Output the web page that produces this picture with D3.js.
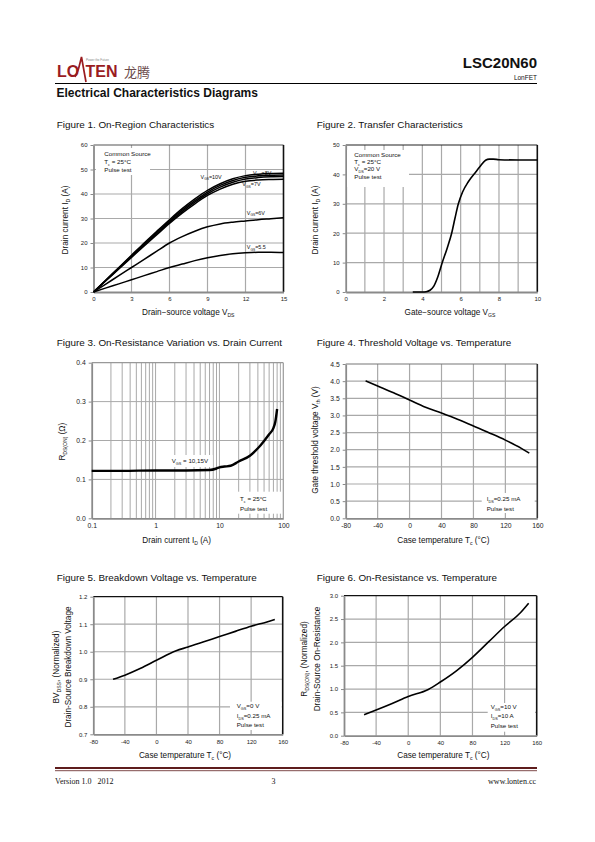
<!DOCTYPE html>
<html><head><meta charset="utf-8">
<script src="https://cdn.jsdelivr.net/npm/d3@7/dist/d3.min.js"></script>
<style>body{margin:0;background:#fff}svg{display:block}</style>
</head><body>
<script>
// ================= DATA =================
// Figure 1: On-Region Characteristics
const fig1Vds   = [0,1,2,3,4,5,6,7,8,9,10,11,12,13,14,15];
const fig1Vgs15 = [0,5,10,15,20,24.8,29.5,34,38,41.5,44.2,46.2,47.5,48.1,48.4,48.5];
const fig1Vgs10 = [0,4.9,9.8,14.7,19.6,24.4,29,33.4,37.3,40.8,43.5,45.5,46.8,47.4,47.7,47.8];
const fig1Vgs8  = [0,4.8,9.6,14.4,19.2,23.9,28.5,32.8,36.7,40.1,42.8,44.8,46.1,46.7,47,47.1];
const fig1Vgs7  = [0,4.7,9.4,14.1,18.8,23.4,28,32.2,36,39.4,42,44,45.2,45.7,45.9,46];
const fig1Vgs6  = [0,3.3,6.7,10,13.3,16.7,20,22.6,24.8,26.6,27.8,28.5,29,29.5,29.9,30.3];
const fig1Vgs55 = [0,1.67,3.33,5,6.67,8.33,10,11.4,12.8,14,14.9,15.6,16,16.2,16.2,16.1];
const fig1XTicks = [0,3,6,9,12,15];
const fig1YTicks = [0,10,20,30,40,50,60];

// Figure 2: Transfer Characteristics
const fig2Vgs = [3.5,4.0,4.2,4.4,4.6,4.8,5.04,5.3,5.53,5.7,5.88,6.1,6.4,6.75,7.0,7.3,7.5,7.7,8.0,9.0,10.0];
const fig2Id  = [0,0,0.1,0.6,2,5,10,15,20,25,30,34,37.5,40.5,42.6,44.8,45.2,45.2,45,44.9,44.9];
const fig2XTicks = [0,2,4,6,8,10];
const fig2XGrid  = [1,2,3,4,5,6,7,8,9];
const fig2YTicks = [0,10,20,30,40,50];

// Figure 3: On-Resistance vs Drain Current
const fig3Id = [0.1,0.3,1,3,7,9,10,12,15,20,30,40,50,60,70,75,80];
const fig3R  = [0.122,0.122,0.123,0.123,0.124,0.128,0.131,0.133,0.135,0.146,0.161,0.18,0.199,0.216,0.232,0.248,0.281];
const fig3XTicks = [0.1,1,10,100];
const fig3XGrid  = [0.2,0.3,0.4,0.5,0.6,0.7,0.8,0.9,1,2,3,4,5,6,7,8,9,10,20,30,40,50,60,70,80,90];
const fig3YTicks = [0,0.1,0.2,0.3,0.4];

// Figure 4: Threshold Voltage vs Temperature
const fig4T   = [-55,-40,-20,0,20,40,60,80,100,120,140,150];
const fig4Vth = [4.01,3.86,3.66,3.45,3.24,3.07,2.89,2.69,2.49,2.28,2.04,1.9];
const tempTicks = [-80,-40,0,40,80,120,160];
const fig4YTicks = [0,0.5,1,1.5,2,2.5,3,3.5,4,4.5];

// Figure 5: Breakdown Voltage vs Temperature
const fig5T  = [-55,-40,-20,0,25,40,60,80,100,120,140,150];
const fig5BV = [0.9,0.915,0.94,0.969,1.004,1.017,1.036,1.055,1.074,1.093,1.108,1.117];
const fig5YTicks = [0.7,0.8,0.9,1.0,1.1,1.2];

// Figure 6: On-Resistance vs Temperature
const fig6T = [-55,-40,-20,0,25,40,60,80,100,120,140,150];
const fig6R = [0.45,0.55,0.69,0.84,0.99,1.15,1.39,1.68,2.01,2.34,2.64,2.84];
const fig6YTicks = [0,0.5,1,1.5,2,2.5,3];

// ================= DRAWING =================
const FONT = "'Liberation Sans', Arial, Helvetica, sans-serif";
const svg = d3.select("body").append("svg").attr("width",595).attr("height",842)
  .attr("font-family",FONT);

function rich(sel, parts, size){
  let prevSub = false;
  parts.forEach(p=>{
    const isSub = Array.isArray(p);
    const ts = sel.append("tspan").text(isSub ? p[0] : p);
    if(isSub){ ts.attr("font-size", size*0.62); if(!prevSub) ts.attr("dy", size*0.3); }
    else if(prevSub){ ts.attr("dy", -size*0.3); }
    prevSub = isSub;
  });
  return sel;
}
function label(g, x, y, parts, size, opts={}){
  const t = g.append("text").attr("x",x).attr("y",y).attr("font-size",size)
    .attr("fill", opts.fill||"#111").attr("text-anchor", opts.anchor||"start");
  if(opts.weight) t.attr("font-weight",opts.weight);
  if(opts.family) t.attr("font-family",opts.family);
  rich(t, parts, size);
  return t;
}
function vlabel(g, cx, cy, parts, size){
  const t = g.append("text").attr("transform",`translate(${cx+size*0.35},${cy}) rotate(-90)`)
    .attr("font-size",size).attr("fill","#111").attr("text-anchor","middle");
  rich(t, parts, size);
  return t;
}

function panel(c){
  const g = svg.append("g");
  const x=c.x, y=c.y;
  const [L,R]=x.range(), [B,T]=y.range();
  g.selectAll("line.vg").data(c.xGrid).join("line").attr("class","vg")
    .attr("x1",d=>x(d)).attr("x2",d=>x(d)).attr("y1",T).attr("y2",B)
    .attr("stroke","#a9a9a9").attr("stroke-width",c.gridW||1.2);
  g.selectAll("line.hg").data(c.yGrid).join("line").attr("class","hg")
    .attr("x1",L).attr("x2",R).attr("y1",d=>y(d)).attr("y2",d=>y(d))
    .attr("stroke","#a9a9a9").attr("stroke-width",c.gridW||1.2);
  g.append("line").attr("x1",L).attr("x2",R).attr("y1",T).attr("y2",T)
    .attr("stroke",c.topColor||"#555").attr("stroke-width",1.2);
  g.append("line").attr("x1",R).attr("x2",R).attr("y1",T).attr("y2",B)
    .attr("stroke",c.rightColor||"#111").attr("stroke-width",c.rightW||1.6);
  const ax = g.append("g").attr("transform",`translate(0,${B})`)
    .call(d3.axisBottom(x).tickValues(c.xTicks).tickSize(0).tickSizeOuter(0).tickPadding(c.xPad||5).tickFormat(c.xFmt||(d=>String(d))));
  const ay = g.append("g").attr("transform",`translate(${L},0)`)
    .call(d3.axisLeft(y).tickValues(c.yTicks).tickSize(3).tickSizeOuter(0).tickPadding(3).tickFormat(c.yFmt||(d=>String(d))));
  [ax,ay].forEach(a=>{
    a.select(".domain").attr("stroke","#8a8a8a").attr("stroke-width",1.8);
    a.selectAll(".tick line").attr("stroke","#8a8a8a");
    a.selectAll("text").attr("font-family",FONT).attr("font-size",c.tickFs||6).attr("fill","#222");
  });
  return g;
}
function box(g, x, y, w, h){
  g.append("rect").attr("x",x).attr("y",y).attr("width",w).attr("height",h).attr("fill","#fff");
}
function curve(g, x, y, xs, ys, w){
  g.append("path").datum(xs.map((v,i)=>[v,ys[i]]))
    .attr("d", d3.line().x(d=>x(d[0])).y(d=>y(d[1])).curve(d3.curveMonotoneX))
    .attr("fill","none").attr("stroke","#000").attr("stroke-width",w||1.6).attr("stroke-linejoin","round");
}
function title(x, y, text){
  svg.append("text").attr("x",x).attr("y",y).attr("font-size",9.9).attr("fill","#111").text(text);
}
const LF = 6.2; // legend font size

// ---------- header ----------
const hdr = svg.append("g");
const logoRed = "#9a1c1f";
hdr.append("text").attr("x",57).attr("y",77).attr("font-size",16).attr("font-weight","bold").attr("fill",logoRed).text("LO");
hdr.append("path").attr("d","M75,77 L78.5,69 L81.5,57 L84,71 L86,82").attr("fill","none").attr("stroke",logoRed).attr("stroke-width",1.7);
hdr.append("text").attr("x",85.5).attr("y",77).attr("font-size",16).attr("font-weight","bold").attr("fill",logoRed).text("TEN");
hdr.append("text").attr("x",86).attr("y",61).attr("font-size",3).attr("fill","#888").text("Power the Future");
hdr.append("text").attr("x",124).attr("y",77).attr("font-size",13).attr("fill","#6a4a4a")
  .attr("font-family","'Noto Sans CJK SC', sans-serif").text("龙腾");
hdr.append("text").attr("x",537).attr("y",67.5).attr("text-anchor","end").attr("font-size",15).attr("font-weight","bold").attr("fill","#111").text("LSC20N60");
hdr.append("text").attr("x",537).attr("y",79.5).attr("text-anchor","end").attr("font-size",6.5).attr("fill","#111").text("LonFET");
hdr.append("line").attr("x1",55).attr("x2",537).attr("y1",83.5).attr("y2",83.5).attr("stroke","#000").attr("stroke-width",1);
hdr.append("text").attr("x",56.5).attr("y",96.5).attr("font-size",12).attr("font-weight","bold").attr("fill","#111").text("Electrical Characteristics Diagrams");

// ---------- Figure 1 ----------
title(56.7, 128.3, "Figure 1. On-Region Characteristics");
{
  const x = d3.scaleLinear().domain([0,15]).range([93.5,283.5]);
  const y = d3.scaleLinear().domain([0,60]).range([292,145]);
  const g = panel({x,y,xGrid:[3,6,9,12],yGrid:[10,20,30,40,50],xTicks:fig1XTicks,yTicks:fig1YTicks,topColor:"#555",tickFs:6});
  box(g, 96, 148, 54, 27);
  label(g, 104.3, 156.2, ["Common Source"], LF);
  label(g, 104.3, 163.9, ["T",["c"]," = 25°C"], LF);
  label(g, 104.3, 171.5, ["Pulse test"], LF);
  label(g, x(12.6), y(47.6), ["V",["GS"],"=8V"], 5.4);
  [fig1Vgs15,fig1Vgs10,fig1Vgs8,fig1Vgs7,fig1Vgs6,fig1Vgs55].forEach(s=>curve(g,x,y,fig1Vds,s,1.5));
  label(g, x(8.45), y(46.2), ["V",["GS"],"=10V"], 5.4);
  label(g, x(11.75), y(43.2), ["V",["GS"],"=7V"], 5.4);
  label(g, x(12.1), y(31.6), ["V",["GS"],"=6V"], 5.4);
  label(g, x(12.1), y(17.6), ["V",["GS"],"=5.5"], 5.4);
  label(g, 188.3, 314.5, ["Drain\u2212source voltage V",["DS"]], 8.2, {anchor:"middle"});
  vlabel(g, 65, 220, ["Drain current I",["D"]," (A)"], 8.2);
}

// ---------- Figure 2 ----------
title(316.7, 128.3, "Figure 2. Transfer Characteristics");
{
  const x = d3.scaleLinear().domain([0,10]).range([345.7,537.3]);
  const y = d3.scaleLinear().domain([0,50]).range([292,145]);
  const g = panel({x,y,xGrid:fig2XGrid,yGrid:[10,20,30,40],xTicks:fig2XTicks,yTicks:fig2YTicks,topColor:"#222",tickFs:6});
  box(g, 347, 150, 62, 37);
  label(g, 354.3, 157.2, ["Common Source"], LF);
  label(g, 354.3, 164.4, ["T",["c"]," = 25°C"], LF);
  label(g, 354.3, 171.4, ["V",["DS"],"=20 V"], LF);
  label(g, 354.3, 178.9, ["Pulse test"], LF);
  curve(g, x, y, fig2Vgs, fig2Id, 1.6);
  label(g, 450, 314.5, ["Gate\u2212source voltage V",["GS"]], 8.2, {anchor:"middle"});
  vlabel(g, 315, 220, ["Drain current I",["D"]," (A)"], 8.2);
}

// ---------- Figure 3 ----------
title(56.7, 345.6, "Figure 3. On-Resistance Variation vs. Drain Current");
{
  const x = d3.scaleLog().domain([0.1,100]).range([91.7,283.3]);
  const y = d3.scaleLinear().domain([0,0.4]).range([518.3,362.7]);
  const g = panel({x,y,xGrid:fig3XGrid,yGrid:[0.1,0.2,0.3],xTicks:fig3XTicks,yTicks:fig3YTicks,
    xFmt:d=>String(d), yFmt:d3.format(".1f"), topColor:"#999", rightColor:"#999", rightW:1.2, gridW:1, tickFs:6.8});
  box(g, 166.7, 455, 46, 12);
  label(g, 171.7, 463.2, ["V",["GS"]," = 10,15V"], LF);
  box(g, 236.7, 491.7, 45, 22);
  label(g, 240, 501.2, ["T",["c"]," = 25°C"], LF);
  label(g, 240, 510.5, ["Pulse test"], LF);
  curve(g, x, y, fig3Id, fig3R, 2.4);
  label(g, 176.7, 543, ["Drain current I",["D"]," (A)"], 8.2, {anchor:"middle"});
  vlabel(g, 61.7, 441.7, ["R",["DS(ON)"]," (Ω)"], 8.2);
}

// ---------- Figure 4 ----------
title(316.7, 345.6, "Figure 4. Threshold Voltage vs. Temperature");
{
  const x = d3.scaleLinear().domain([-80,160]).range([345.7,537.3]);
  const y = d3.scaleLinear().domain([0,4.5]).range([518.3,364]);
  const g = panel({x,y,xGrid:[-40,0,40,80,120],yGrid:[0.5,1,1.5,2,2.5,3,3.5,4],xTicks:tempTicks,yTicks:fig4YTicks,
    yFmt:d3.format(".1f"), topColor:"#777", rightColor:"#333", tickFs:6.8});
  box(g, 481.7, 493, 53, 20);
  label(g, 486.7, 501.2, ["I",["DS"],"=0.25 mA"], LF);
  label(g, 486.7, 510.5, ["Pulse test"], LF);
  curve(g, x, y, fig4T, fig4Vth, 1.6);
  label(g, 443.3, 543, ["Case temperature T",["c"]," (°C)"], 8.2, {anchor:"middle"});
  vlabel(g, 315, 440, ["Gate threshold voltage V",["th"]," (V)"], 8.2);
}

// ---------- Figure 5 ----------
title(56.7, 580.6, "Figure 5. Breakdown Voltage vs. Temperature");
{
  const x = d3.scaleLinear().domain([-80,160]).range([93.3,282.7]);
  const y = d3.scaleLinear().domain([0.7,1.2]).range([734.3,596.7]);
  const g = panel({x,y,xGrid:[-40,0,40,80,120],yGrid:[0.8,0.9,1.0,1.1],xTicks:tempTicks,yTicks:fig5YTicks,
    yFmt:d3.format(".1f"), topColor:"#111", rightColor:"#111", tickFs:6});
  box(g, 230, 701.7, 51.7, 28.3);
  label(g, 236.7, 708.2, ["V",["GS"],"=0 V"], LF);
  label(g, 236.7, 717.9, ["I",["DS"],"=0.25 mA"], LF);
  label(g, 236.7, 726.5, ["Pulse test"], LF);
  curve(g, x, y, fig5T, fig5BV, 1.6);
  label(g, 185, 758, ["Case temperature T",["c"]," (°C)"], 8.2, {anchor:"middle"});
  vlabel(g, 56, 667, ["BV",["DSS"],", (Normalized)"], 8.2);
  vlabel(g, 67.7, 667, ["Drain-Source Breakdown Voltage"], 8.2);
}

// ---------- Figure 6 ----------
title(316.7, 580.6, "Figure 6. On-Resistance vs. Temperature");
{
  const x = d3.scaleLinear().domain([-80,160]).range([344,536.7]);
  const y = d3.scaleLinear().domain([0,3]).range([735.7,595.7]);
  const g = panel({x,y,xGrid:[-40,0,40,80,120],yGrid:[0.5,1,1.5,2,2.5],xTicks:tempTicks,yTicks:fig6YTicks,
    yFmt:d3.format(".1f"), topColor:"#111", rightColor:"#111", tickFs:6});
  box(g, 487.7, 703, 47.3, 28.7);
  label(g, 490.7, 708.9, ["V",["GS"],"=10 V"], LF);
  label(g, 490.7, 717.9, ["I",["DS"],"=10 A"], LF);
  label(g, 490.7, 727.7, ["Pulse test"], LF);
  curve(g, x, y, fig6T, fig6R, 1.6);
  label(g, 443.3, 758, ["Case temperature T",["c"]," (°C)"], 8.2, {anchor:"middle"});
  vlabel(g, 304, 659, ["R",["DS(ON)"],", (Normalized)"], 8.2);
  vlabel(g, 316.7, 659, ["Drain-Source On-Resistance"], 8.2);
}

// ---------- footer ----------
const ft = svg.append("g");
ft.append("line").attr("x1",55).attr("x2",537).attr("y1",768).attr("y2",768).attr("stroke","#5e1d1d").attr("stroke-width",2);
ft.append("line").attr("x1",55).attr("x2",537).attr("y1",770.7).attr("y2",770.7).attr("stroke","#5e1d1d").attr("stroke-width",0.8);
ft.append("text").attr("x",55).attr("y",783.5).attr("font-size",8).attr("font-family","'Liberation Serif', serif").attr("fill","#111").attr("xml:space","preserve").text("Version 1.0   2012");
ft.append("text").attr("x",273.5).attr("y",783.5).attr("font-size",8).attr("font-family","'Liberation Serif', serif").attr("fill","#111").attr("text-anchor","middle").text("3");
ft.append("text").attr("x",536).attr("y",783.5).attr("font-size",8).attr("font-family","'Liberation Serif', serif").attr("fill","#111").attr("text-anchor","end").text("www.lonten.cc");
</script>
</body></html>
